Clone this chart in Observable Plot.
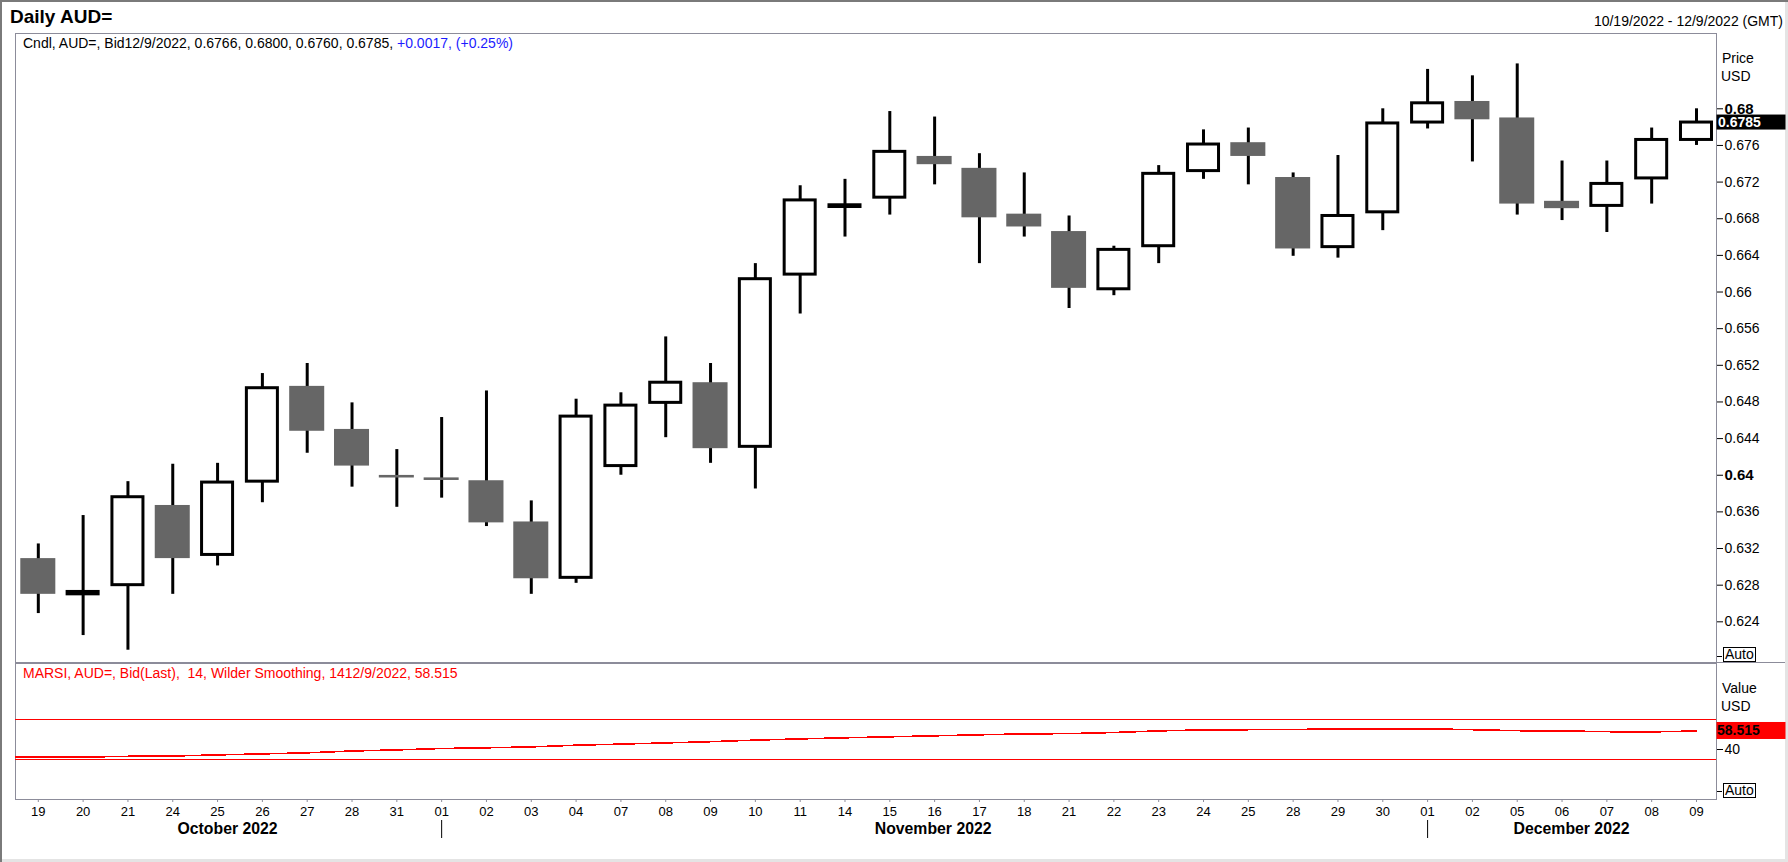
<!DOCTYPE html>
<html><head><meta charset="utf-8">
<script src="https://cdn.jsdelivr.net/npm/d3@7"></script>
<script src="https://cdn.jsdelivr.net/npm/@observablehq/plot@0.6"></script>
<style>
body{margin:0;background:#fff;}
#wrap{position:relative;width:1788px;height:862px;overflow:hidden;font-family:"Liberation Sans",Arial,sans-serif;background:#fff;box-shadow:inset 2px 2px 0 #7a7a7a, inset -3px -3px 0 #e4e4e4;}
.abs{position:absolute;white-space:pre;font-size:14px;line-height:16px;color:#000;}
#wrap svg{position:absolute;left:0;overflow:visible;}
.box{position:absolute;border:1px solid #000;font-size:14px;line-height:13px;height:13px;padding:0 1px;background:#fff;}
.dash{position:absolute;height:1px;background:#000;}
</style></head><body><div id="wrap"></div>
<script>
// ---- data ----
const dates = ["2022-10-19","2022-10-20","2022-10-21","2022-10-24","2022-10-25","2022-10-26","2022-10-27","2022-10-28","2022-10-31",
"2022-11-01","2022-11-02","2022-11-03","2022-11-04","2022-11-07","2022-11-08","2022-11-09","2022-11-10","2022-11-11","2022-11-14","2022-11-15","2022-11-16","2022-11-17","2022-11-18","2022-11-21","2022-11-22","2022-11-23","2022-11-24","2022-11-25","2022-11-28","2022-11-29","2022-11-30",
"2022-12-01","2022-12-02","2022-12-05","2022-12-06","2022-12-07","2022-12-08","2022-12-09"];
const open  = [0.6309,0.6270,0.6280,0.6367,0.6313,0.6393,0.6497,0.6450,0.63998,0.63971,0.6394,0.6349,0.6288,0.6410,0.6479,0.6501,0.6431,0.6619,0.66928,0.6703,0.6748,0.6735,0.6685,0.6666,0.6603,0.6650,0.6732,0.6763,0.6725,0.6649,0.6687,0.6785,0.6808,0.6790,0.6699,0.6694,0.6724,0.6766];
const high  = [0.6325,0.6356,0.6393,0.6412,0.6413,0.6511,0.6522,0.6479,0.6428,0.6463,0.6492,0.6372,0.6483,0.6490,0.6551,0.6522,0.6631,0.6716,0.6723,0.6797,0.6791,0.6751,0.6730,0.6683,0.6650,0.6738,0.6777,0.6779,0.6730,0.6749,0.6800,0.6843,0.6836,0.6849,0.6743,0.6743,0.6779,0.6800];
const low   = [0.6249,0.6225,0.6209,0.6270,0.6301,0.6370,0.6424,0.6387,0.6365,0.6375,0.6344,0.6270,0.6282,0.6400,0.6441,0.6413,0.6385,0.6576,0.6660,0.6684,0.6717,0.6631,0.6660,0.6582,0.6596,0.6631,0.6723,0.6717,0.6639,0.6637,0.6667,0.6778,0.6742,0.6684,0.6678,0.6665,0.6696,0.6760];
const close = [0.6270,0.62726,0.6376,0.6309,0.6392,0.6495,0.6448,0.6410,0.63970,0.63943,0.6348,0.6287,0.6464,0.6476,0.6501,0.6429,0.6614,0.6700,0.66947,0.6753,0.6739,0.6681,0.6671,0.6604,0.6646,0.6729,0.6761,0.6748,0.6647,0.6683,0.6784,0.6806,0.6788,0.6696,0.6691,0.6718,0.6766,0.6785];
const rsi   = [32.3,32.4,33.2,33.5,34.6,35.6,36.7,38.5,39.6,41.0,41.7,42.6,44.3,45.4,46.6,47.8,49.4,50.6,51.7,52.7,53.7,54.7,55.6,55.9,57.0,58.6,59.6,59.8,60.0,60.6,60.7,60.7,59.8,58.8,58.6,57.8,57.6,58.515];
const priceTicks = [0.624,0.628,0.632,0.636,0.64,0.644,0.648,0.652,0.656,0.66,0.664,0.668,0.672,0.676,0.68];
const boldTicks = [0.64,0.68];
const rsiTicks = [40];
const rsiLevels = [70,30];
const monthStarts = ["2022-11-01","2022-12-01"];
const monthLabels = ["October 2022","November 2022","December 2022"];
const monthAnchors = ["2022-10-25","2022-11-16","2022-12-06"];

const candles = dates.map((d,i)=>({date:d,open:open[i],high:high[i],low:low[i],close:close[i],up:close[i]>=open[i]}));
const rsiData = dates.map((d,i)=>({date:d,rsi:rsi[i]}));

const FONT = "Liberation Sans, Arial, sans-serif";
const GRID = "#8c8c9a";
const xScale = {type:"band", domain:dates, range:[15.4,1718.4], padding:0};
const fmt = d => d.toFixed(3).replace(/0+$/,"").replace(/\.$/,"");

const wrap = document.getElementById("wrap");

// ---- price panel ----
const price = Plot.plot({
  width:1788, height:665, marginTop:33, marginBottom:2, marginLeft:15, marginRight:72,
  style:{fontFamily:FONT, fontSize:"14px", color:"#000", background:"transparent", overflow:"visible"},
  x:{...xScale, axis:null},
  y:{domain:[0.61945,0.68822], axis:null},
  marks:[
    Plot.frame({stroke:GRID}),
    Plot.ruleX(candles,{x:"date", y1:"low", y2:"high", stroke:"#000", strokeWidth:3}),
    Plot.barY(candles.filter(d=>!d.up),{x:"date", y1:"open", y2:"close", fill:"#666666", insetLeft:4.9, insetRight:4.9}),
    Plot.barY(candles.filter(d=>d.up),{x:"date", y1:"open", y2:"close", fill:"#fff", stroke:"#000", strokeWidth:3, insetLeft:6.9, insetRight:6.9}),
    Plot.axisY({ticks:priceTicks.filter(t=>!boldTicks.includes(t)), anchor:"right", tickSize:6, tickPadding:2, tickFormat:fmt, fontSize:14, label:null}),
    Plot.axisY({ticks:boldTicks, anchor:"right", tickSize:6, tickPadding:2, tickFormat:fmt, fontSize:15, fontWeight:"bold", label:null})
  ]
});
price.style.top = "0px";
wrap.appendChild(price);

// last price badge
{
  const yv = price.scale("y").apply(close[close.length-1]);
  const g = d3.select(price).append("g").attr("text-anchor","start");
  g.append("rect").attr("x",1716.5).attr("y",yv-7.5).attr("width",69).attr("height",15).attr("fill","#000");
  g.append("text").attr("x",1718).attr("y",yv).attr("dy","0.35em").attr("fill","#fff").attr("text-anchor","start")
    .attr("font-weight","bold").attr("font-size",14).attr("font-family",FONT).text(close[close.length-1].toFixed(4));
}

// ---- RSI panel ----
const rsiPlot = Plot.plot({
  width:1788, height:202, marginTop:3, marginBottom:63, marginLeft:15, marginRight:72,
  style:{fontFamily:FONT, fontSize:"13px", color:"#000", background:"transparent", overflow:"visible"},
  x:{...xScale, axis:null},
  y:{domain:[-10,126], axis:null},
  marks:[
    Plot.frame({stroke:GRID}),
    Plot.ruleY(rsiLevels,{stroke:"#ff0000", strokeWidth:1.4, shapeRendering:"crispEdges"}),
    Plot.ruleY([rsi[0]],{stroke:"#ff0000", strokeWidth:1.6, insetRight:1678, shapeRendering:"crispEdges"}),
    Plot.line(rsiData,{x:"date", y:"rsi", stroke:"#ff0000", strokeWidth:1.6, shapeRendering:"crispEdges"}),
    Plot.axisX({ticks:dates, anchor:"bottom", tickSize:3, tickPadding:4, tickFormat:d=>d.slice(8), fontSize:13, label:null, stroke:GRID}),
    Plot.axisY({ticks:rsiTicks, anchor:"right", tickSize:6, tickPadding:2, fontSize:14, label:null}),
    Plot.ruleX(monthStarts,{x:d=>d, insetTop:157, insetBottom:-39, stroke:"#000", strokeWidth:1}),
    ...monthLabels.map((m,i)=>Plot.text([m],{x:()=>monthAnchors[i], text:d=>d, frameAnchor:"bottom", lineAnchor:"middle", dy:29, dx:[10,-1.5,9.5][i], fontWeight:"bold", fontSize:15.8}))
  ]
});
rsiPlot.style.top = "660px";
wrap.appendChild(rsiPlot);

// RSI badge
{
  const last = rsi[rsi.length-1];
  const yv = rsiPlot.scale("y").apply(last);
  const g = d3.select(rsiPlot).append("g").attr("text-anchor","start");
  g.append("rect").attr("x",1716.5).attr("y",yv-8.5).attr("width",69).attr("height",17).attr("fill","#ff0000");
  g.append("text").attr("x",1717).attr("y",yv).attr("dy","0.35em").attr("fill","#000").attr("text-anchor","start")
    .attr("font-weight","bold").attr("font-size",14).attr("font-family",FONT).text(last.toFixed(3));
}

// ---- text overlays ----
function addDiv(cls, css, html){ const d=document.createElement("div"); d.className=cls; d.style.cssText=css; d.innerHTML=html; wrap.appendChild(d); return d; }
addDiv("abs","left:10px;top:6px;font-size:19px;line-height:22px;font-weight:bold;","Daily AUD=");
addDiv("abs","right:5px;top:13px;","10/19/2022 - 12/9/2022 (GMT)");
addDiv("abs","left:23px;top:35px;","Cndl, AUD=, Bid12/9/2022, 0.6766, 0.6800, 0.6760, 0.6785, <span style=\"color:#1c1cff\">+0.0017, (+0.25%)</span>");
addDiv("abs","left:1722px;top:50px;","Price");
addDiv("abs","left:1721px;top:68px;","USD");
addDiv("abs","left:23px;top:665px;color:#ff0000;","MARSI, AUD=, Bid(Last),  14, Wilder Smoothing, 1412/9/2022, 58.515");
addDiv("abs","left:1722px;top:680px;","Value");
addDiv("abs","left:1721px;top:698px;","USD");
addDiv("box","left:1723px;top:647px;","Auto");
addDiv("dash","left:1717px;top:656px;width:5px;","");
addDiv("box","left:1723px;top:783px;","Auto");
addDiv("dash","left:1717px;top:791px;width:5px;","");
addDiv("dash","left:15px;top:662px;width:1770px;background:"+GRID+";","");
</script></body></html>
